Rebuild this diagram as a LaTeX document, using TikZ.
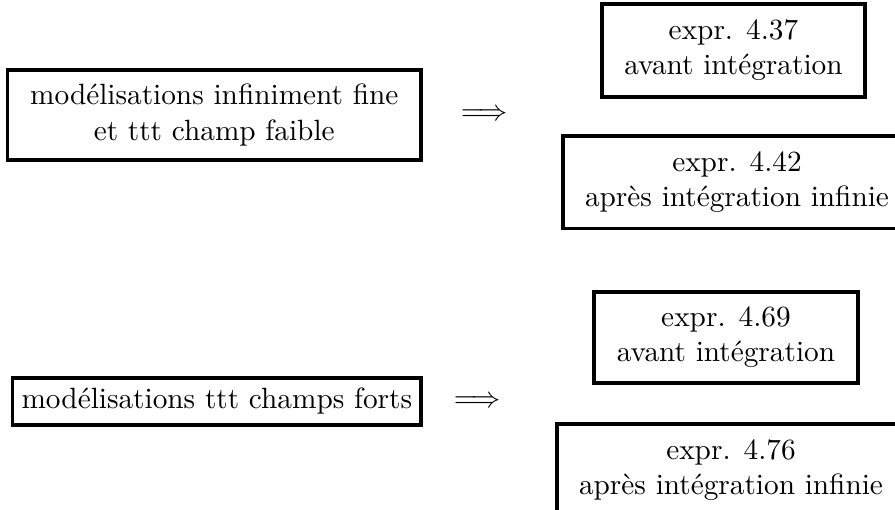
\documentclass[tikz,border=0pt]{standalone}
\usepackage{fontspec}
\begin{document}
\begin{tikzpicture}[x=0.3413pt,y=-0.3413pt,
  boxa/.style={draw,line width=1.2pt,align=center,inner sep=0pt},
  sym/.style={inner sep=0pt}]
\useasboundingbox (0,0) rectangle (895,510);
% top group
\node[boxa,anchor=east,inner xsep=7.8pt,minimum height=30.7pt] (fine) at (423,115)
  {modélisations infiniment fine\\et ttt champ faible};
\node[sym] (imp1) at (484.5,115) {$\Longrightarrow$};
\node[boxa,minimum width=89.8pt,minimum height=31.7pt] (e437) at (733.5,50.5)
  {expr. 4.37\\avant intégration};
\node[boxa,anchor=north west,inner xsep=7.6pt,minimum height=31.7pt] (e442) at (561,134)
  {expr. 4.42\\après intégration infinie};
% bottom group
\node[boxa,anchor=east,inner xsep=3.1pt,minimum height=16pt] (forts) at (423,401.5)
  {modélisations ttt champs forts};
\node[sym] (imp2) at (477.5,402) {$\Longrightarrow$};
\node[boxa,minimum width=90.1pt,minimum height=31.1pt] (e469) at (726,337.5)
  {expr. 4.69\\avant intégration};
\node[boxa,anchor=north west,inner xsep=7.6pt,minimum height=31.7pt] (e476) at (555,422)
  {expr. 4.76\\après intégration infinie};
\end{tikzpicture}
\end{document}
